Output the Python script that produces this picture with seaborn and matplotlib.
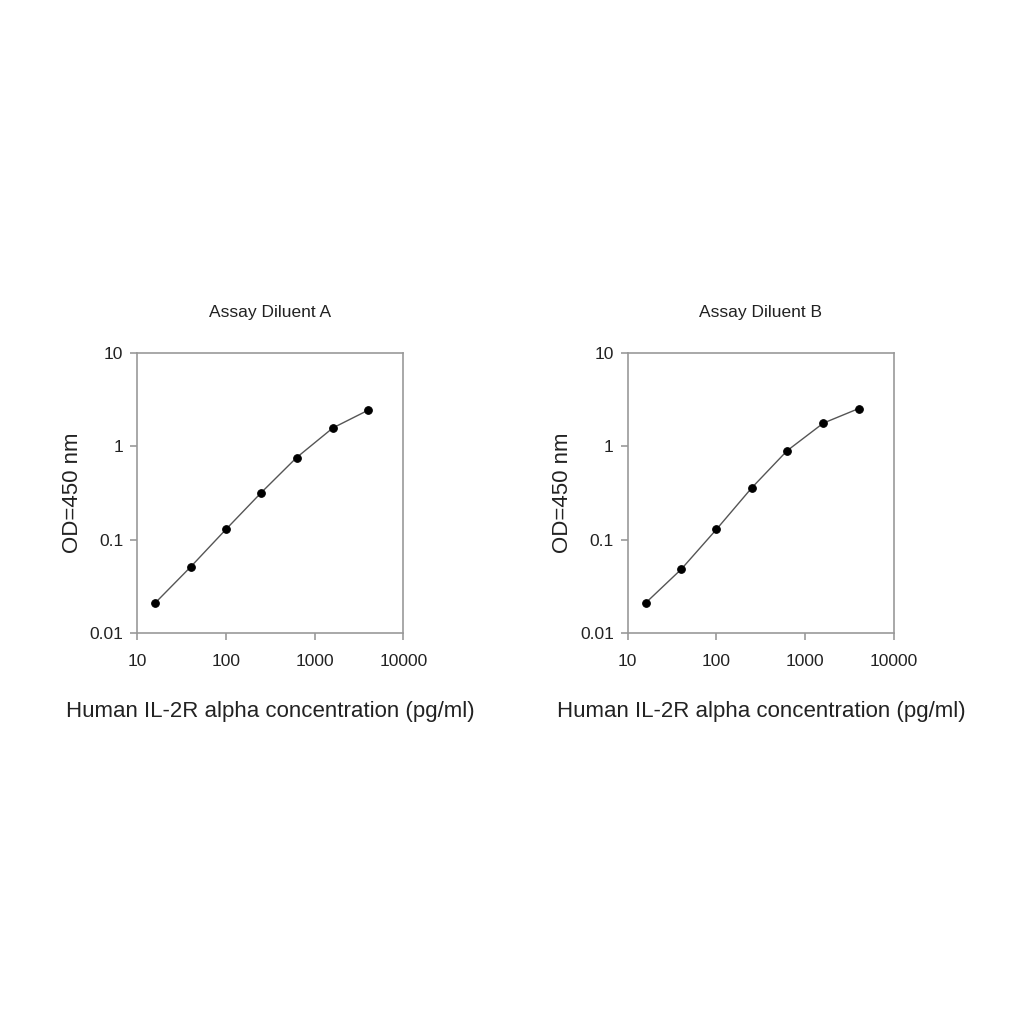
import numpy as np
import pandas as pd
import seaborn as sns
import matplotlib.pyplot as plt

# standard curve concentrations (pg/ml) and OD readings
conc = [16, 40, 100, 250, 625, 1600, 4000]
od_a = [0.021, 0.051, 0.129, 0.32, 0.76, 1.58, 2.45]
od_b = [0.021, 0.048, 0.129, 0.36, 0.90, 1.78, 2.55]
titles = ["Assay Diluent A", "Assay Diluent B"]

sns.set_style("white")
plt.rcParams['font.family'] = ['Liberation Sans', 'DejaVu Sans']

fig = plt.figure(figsize=(10.24, 10.24), dpi=100)
lefts = [0.134, 0.613]

for left, od, title in zip(lefts, [od_a, od_b], titles):
    ax = fig.add_axes([left, 0.382, 0.26, 0.273])
    df = pd.DataFrame({"conc": conc, "od": od})
    sns.lineplot(data=df, x="conc", y="od", ax=ax, color="#555555", linewidth=1.0,
                 marker="o", markersize=5.5, markerfacecolor="black",
                 markeredgecolor="black")
    ax.set_xscale("log")
    ax.set_yscale("log")
    ax.set_xlim(10, 10000)
    ax.set_ylim(0.01, 10)
    ax.set_xticks([10, 100, 1000, 10000])
    ax.set_xticklabels(["10", "100", "1000", "10000"])
    ax.set_yticks([0.01, 0.1, 1, 10])
    ax.set_yticklabels(["0.01", "0.1", "1", "10"])
    ax.minorticks_off()
    ax.tick_params(axis="both", which="major", direction="out", length=5,
                   width=1.2, color="#999999", labelsize=12.5, pad=5,
                   bottom=True, left=True, labelcolor="#222222")
    ax.tick_params(axis="x", pad=10)
    for s in ax.spines.values():
        s.set_color("#999999")
        s.set_linewidth(1.2)
    ax.set_title(title, fontsize=12.5, pad=26, color="#222222")
    ax.set_xlabel("Human IL-2R alpha concentration (pg/ml)", fontsize=16,
                  labelpad=23, color="#222222")
    ax.set_ylabel("OD=450 nm", fontsize=16, labelpad=5, color="#222222")

fig.savefig("out.png", dpi=100, facecolor="white")
